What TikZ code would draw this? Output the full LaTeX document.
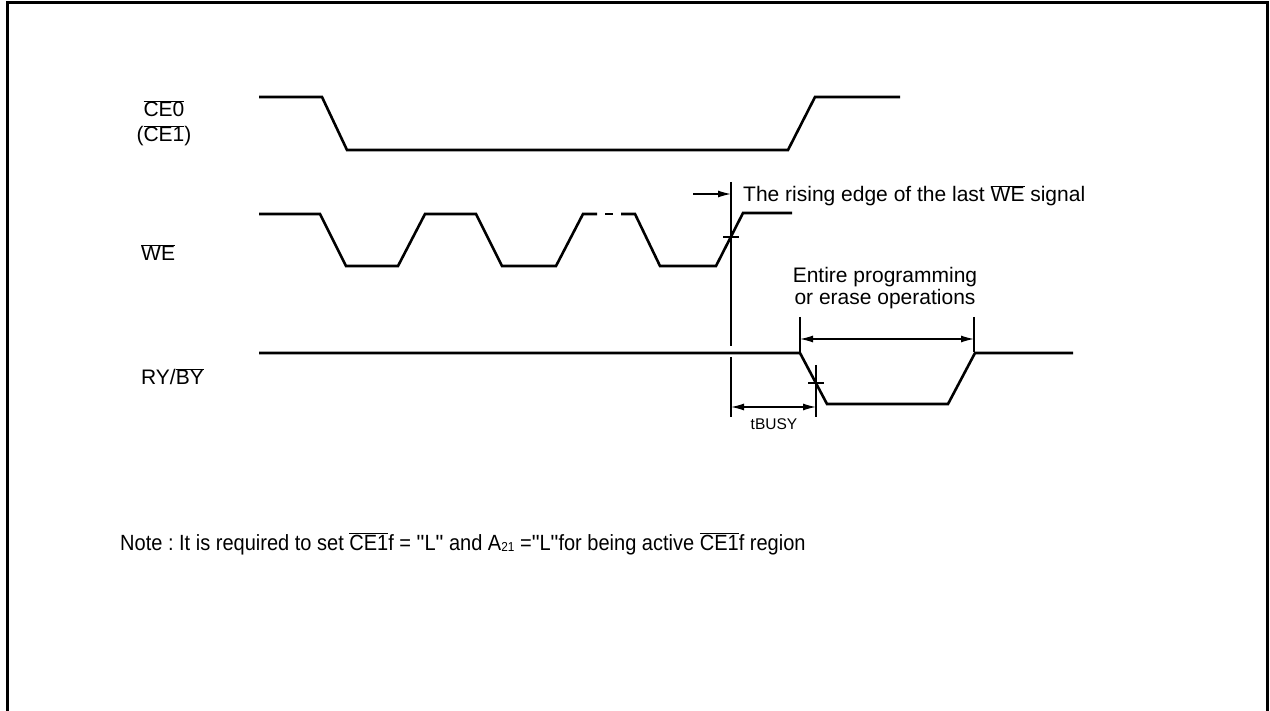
\documentclass[tikz,border=0pt]{standalone}
\usepackage{fontspec}
\setmainfont{Liberation Sans}
\newfontfamily\qfont{Liberation Sans}
\usetikzlibrary{arrows.meta}
\newcommand{\ovl}[1]{$\overline{\mbox{#1}}$}
\newcommand{\dq}{{\qfont\symbol{34}}}
\begin{document}
\frenchspacing
\begin{tikzpicture}[x=1pt,y=-1pt,
  sig/.style={line width=2.6pt, line join=miter},
  dim/.style={line width=1.3pt},
  tip/.style={-{Latex[length=13pt,width=7pt]}},
  tips/.style={{Latex[length=13pt,width=7pt]}-{Latex[length=13pt,width=7pt]}},
  lbl/.style={inner sep=0pt, font=\fontsize{21}{23}\selectfont},
  small/.style={inner sep=0pt, font=\fontsize{15.5}{17}\selectfont},
]
\useasboundingbox (0,0) rectangle (1270,711);
% frame
\coordinate (f1) at (7,712);
\coordinate (f2) at (7,2.5);
\coordinate (f3) at (1267,2.5);
\coordinate (f4) at (1267,712);
\draw[line width=3pt] (f1) -- (f2) -- (f3) -- (f4);

% labels
\node[lbl, anchor=base] (lce0) at (164,117) {\ovl{CE0}};
\node[lbl, anchor=base] (lce1) at (164,142) {(\ovl{CE1})};
\node[lbl, anchor=base west] (lwe) at (141,261) {\ovl{WE}};
\node[lbl, anchor=base west] (lry) at (141,385) {RY/\ovl{BY}};

% CE0 waveform
\coordinate (c1) at (259,97);
\coordinate (c2) at (322,97);
\coordinate (c3) at (347,150);
\coordinate (c4) at (788,150);
\coordinate (c5) at (815,97);
\coordinate (c6) at (900,97);
\draw[sig] (c1) -- (c2) -- (c3) -- (c4) -- (c5) -- (c6);

% WE waveform
\coordinate (w1) at (259,214);
\coordinate (w2) at (320,214);
\coordinate (w3) at (346,266);
\coordinate (w4) at (398,266);
\coordinate (w5) at (425,214);
\coordinate (w6) at (476,214);
\coordinate (w7) at (502,266);
\coordinate (w8) at (556,266);
\coordinate (w9) at (583,214);
\coordinate (w10) at (597,214);
\coordinate (d1) at (605,214);
\coordinate (d2) at (613,214);
\coordinate (w11) at (621,214);
\coordinate (w12) at (635,214);
\coordinate (w13) at (660,266);
\coordinate (w14) at (716,266);
\coordinate (w15) at (743,213);
\coordinate (w16) at (792,213);
\draw[sig] (w1) -- (w2) -- (w3) -- (w4) -- (w5) -- (w6) -- (w7) -- (w8) -- (w9) -- (w10);
\draw[sig] (d1) -- (d2);
\draw[sig] (w11) -- (w12) -- (w13) -- (w14) -- (w15) -- (w16);

% RY/BY waveform
\coordinate (r1) at (259,353);
\coordinate (r2) at (800,353);
\coordinate (r3) at (827,404);
\coordinate (r4) at (948,404);
\coordinate (r5) at (975,353);
\coordinate (r6) at (1073,353);
\draw[sig] (r1) -- (r2) -- (r3) -- (r4) -- (r5) -- (r6);

% reference line at last WE rising edge
\coordinate (v1) at (731,182);
\coordinate (v2) at (731,346);
\coordinate (v3) at (731,357);
\coordinate (v4) at (731,417);
\draw[dim] (v1) -- (v2);
\draw[dim] (v3) -- (v4);
\coordinate (t1) at (723,237);
\coordinate (t2) at (739,237);
\draw[dim] (t1) -- (t2);
\coordinate (a1) at (693,194);
\coordinate (a2) at (731,194);
\draw[dim, tip] (a1) -- (a2);
\node[lbl, anchor=base west] (ltxt) at (743,202) {The rising edge of the last \ovl{WE} signal};

% tick on RY/BY falling edge
\coordinate (u1) at (816,365);
\coordinate (u2) at (816,417);
\draw[dim] (u1) -- (u2);
\coordinate (u3) at (808,383);
\coordinate (u4) at (824,383);
\draw[dim] (u3) -- (u4);

% tBUSY
\coordinate (b1) at (731,407);
\coordinate (b2) at (816,407);
\draw[dim, tips] (b1) -- (b2);
\node[small, anchor=base] (lbusy) at (774,430) {tBUSY};

% entire programming
\coordinate (e1) at (800,317);
\coordinate (e2) at (800,352);
\coordinate (e3) at (974,317);
\coordinate (e4) at (974,352);
\draw[dim] (e1) -- (e2);
\draw[dim] (e3) -- (e4);
\coordinate (e5) at (800,339);
\coordinate (e6) at (974,339);
\draw[dim, tips] (e5) -- (e6);
\node[lbl, anchor=base] (lent1) at (885,283) {Entire programming};
\node[lbl, anchor=base] (lent2) at (885,305) {or erase operations};

% note
\node[inner sep=0pt, anchor=base west, font=\fontsize{22}{24}\selectfont\addfontfeatures{FakeStretch=0.91}] (note) at (120,550) {Note : It is required to set \ovl{CE1}f = \dq L\dq{} and A\raisebox{-1pt}{\fontsize{13}{13}\selectfont 21} =\dq L\dq for being active \ovl{CE1}f region};
\end{tikzpicture}
\end{document}
